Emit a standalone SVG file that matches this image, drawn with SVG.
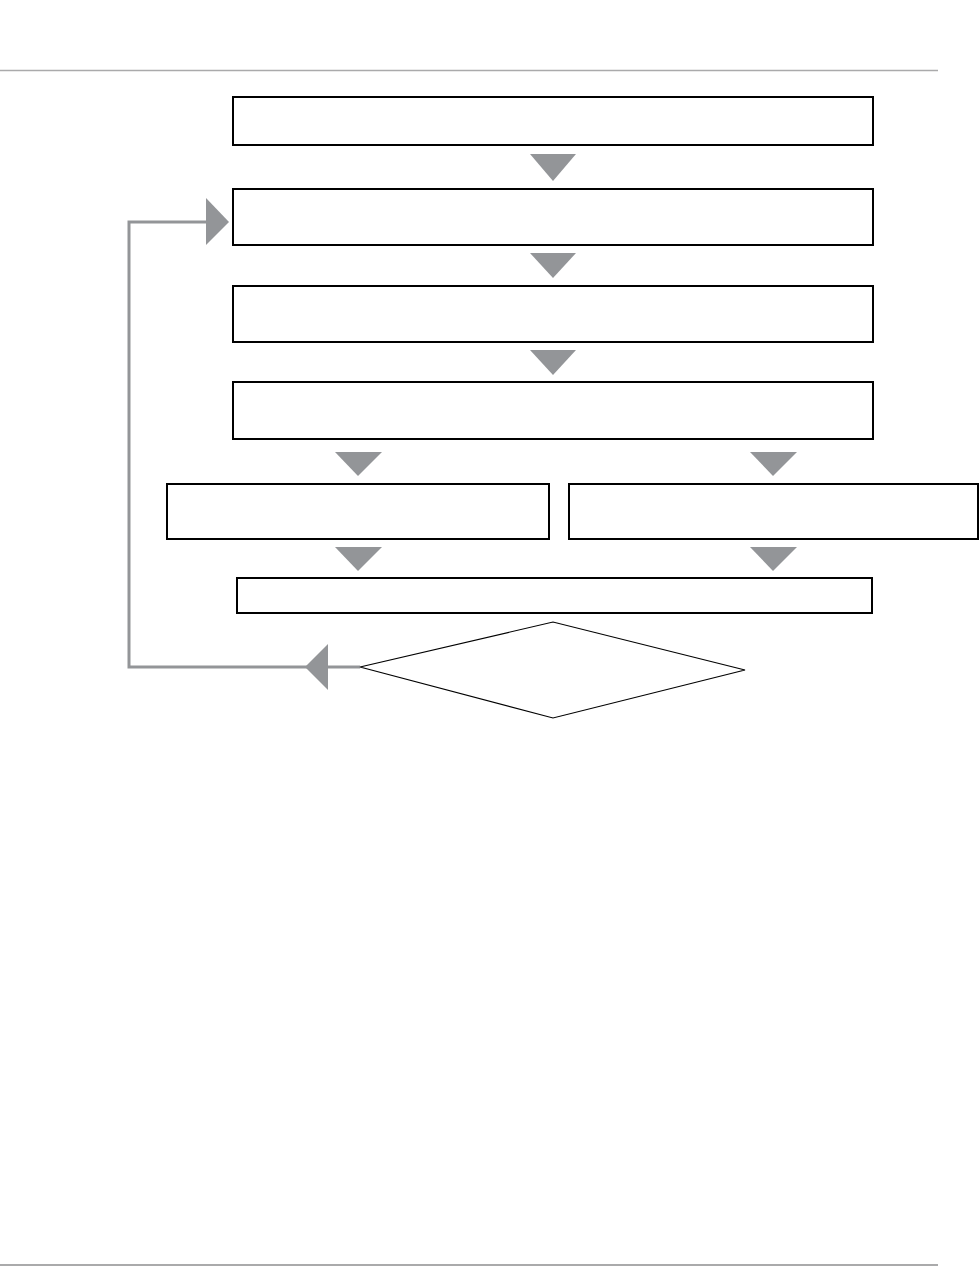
<svg xmlns="http://www.w3.org/2000/svg" width="980" height="1267" viewBox="0 0 980 1267">
<style>
.box{fill:#fff;stroke:#000;stroke-width:2}
.dia{fill:#fff;stroke:#000;stroke-width:1.2}
.head{fill:#939598;stroke:none}
.loop{fill:none;stroke:#939598;stroke-width:3}
.rule{stroke:#aaaaab;fill:none}
</style>
<rect width="980" height="1267" fill="#fff"/>
<g id="rules">
<line class="rule" x1="0" y1="70.5" x2="938" y2="70.5" stroke-width="1.5"/>
<line class="rule" x1="0" y1="1265" x2="938" y2="1265" stroke-width="2"/>
</g>
<g id="connectors">
<polygon class="head" points="530,154 576,154 553,181"/>
<polygon class="head" points="530,253 576,253 553,278"/>
<polygon class="head" points="530,350 576,350 553,375"/>
<polygon class="head" points="335,452 382,452 358,476"/>
<polygon class="head" points="750,452 797,452 773,476"/>
<polygon class="head" points="335,547 382,547 358,571"/>
<polygon class="head" points="750,547 797,547 773,571"/>
<polyline class="loop" points="360,667 129,667 129,222 208,222"/>
<polygon class="head" points="305,667 328,644 328,690"/>
<polygon class="head" points="229,222 206,198 206,245"/>
</g>
<g id="n1"><rect class="box" x="233" y="97" width="640" height="48"/></g>
<g id="n2"><rect class="box" x="233" y="189" width="640" height="56"/></g>
<g id="n3"><rect class="box" x="233" y="286" width="640" height="56"/></g>
<g id="n4"><rect class="box" x="233" y="382" width="640" height="57"/></g>
<g id="n5"><rect class="box" x="167" y="484" width="382" height="55"/></g>
<g id="n6"><rect class="box" x="569" y="484" width="409" height="55"/></g>
<g id="n7"><rect class="box" x="237" y="578" width="635" height="35" stroke-width="2.5"/></g>
<g id="n8"><polygon class="dia" points="360,667 553,622 745,670 553,718"/></g>
</svg>
